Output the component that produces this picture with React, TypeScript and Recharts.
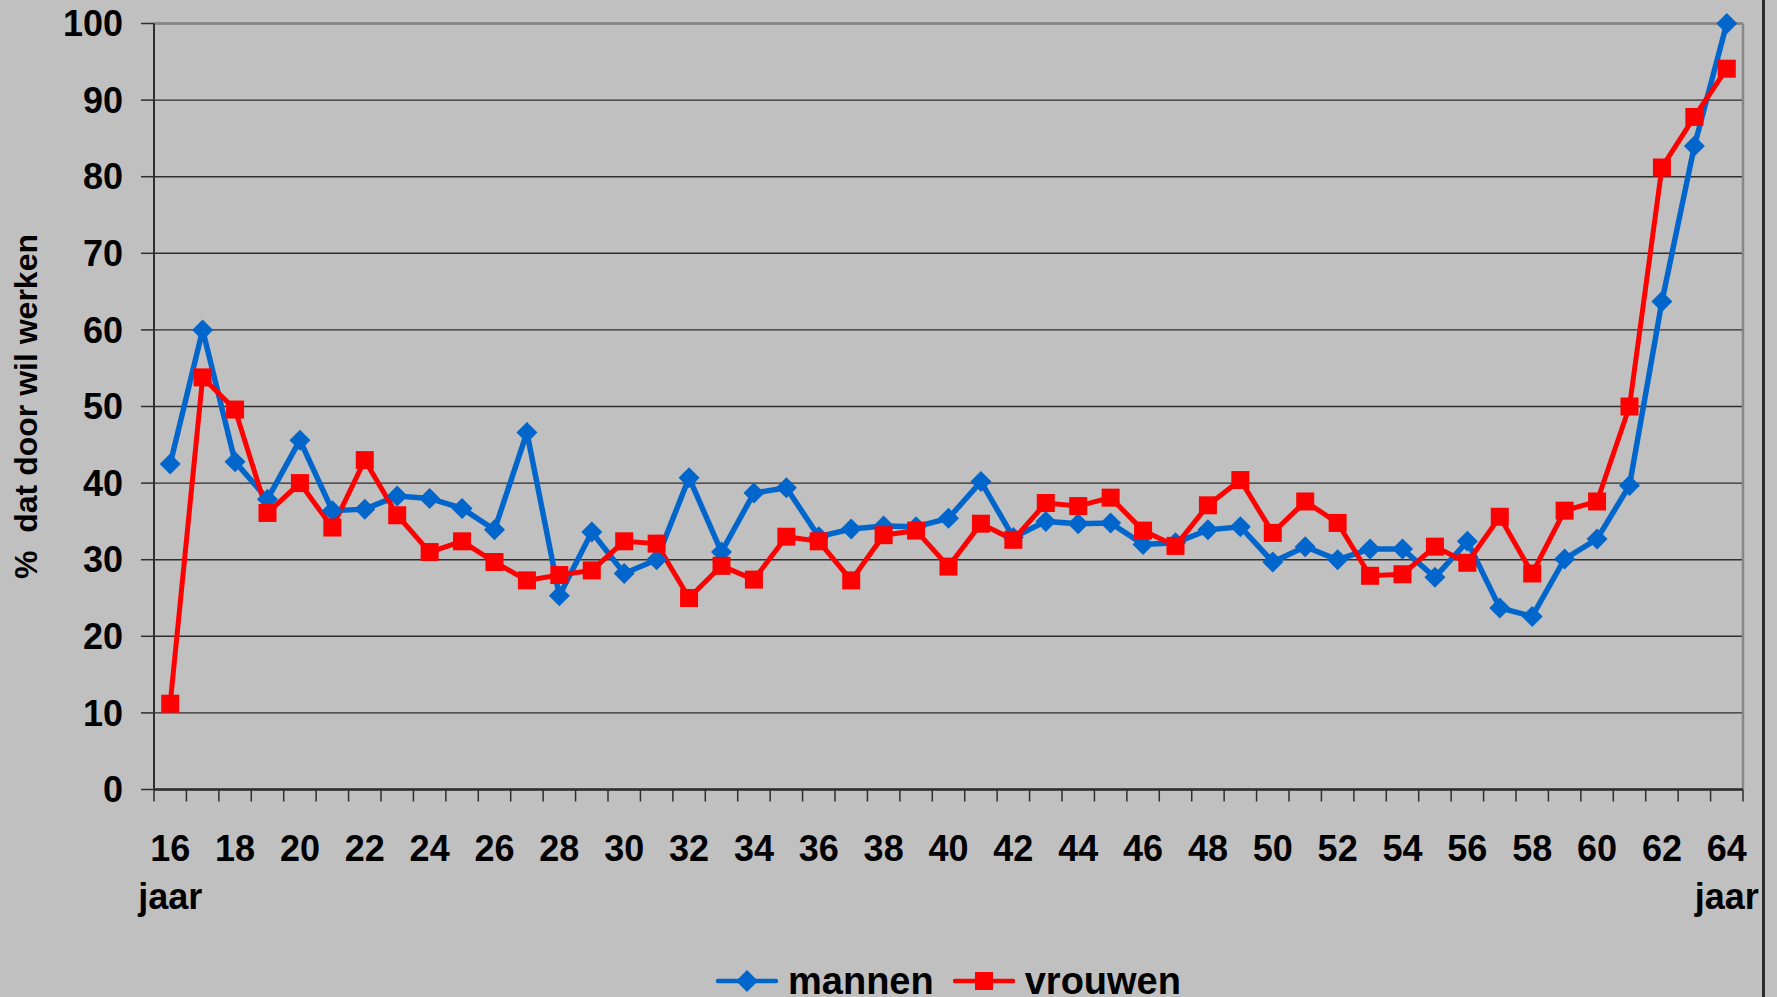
import { CartesianGrid, Label, Legend, Line, LineChart, ReferenceLine, XAxis, YAxis } from "recharts"

const ages = [
  16, 17, 18, 19, 20, 21, 22, 23, 24, 25, 26, 27, 28, 29, 30, 31, 32, 33, 34, 35, 36, 37, 38, 39, 40,
  41, 42, 43, 44, 45, 46, 47, 48, 49, 50, 51, 52, 53, 54, 55, 56, 57, 58, 59, 60, 61, 62, 63, 64,
]

const mannen = [
  42.5, 60.0, 42.8, 37.9, 45.6, 36.4, 36.6, 38.3, 38.0, 36.7, 33.9, 46.6, 25.3, 33.6, 28.2, 30.0, 40.7,
  31.0, 38.7, 39.4, 33.0, 34.0, 34.4, 34.3, 35.4, 40.2, 32.9, 35.0, 34.7, 34.8, 32.0, 32.2, 33.9, 34.3,
  29.7, 31.7, 30.0, 31.4, 31.4, 27.7, 32.4, 23.7, 22.6, 30.1, 32.7, 39.7, 63.7, 84.0, 100,
]

const vrouwen = [
  11.2, 53.8, 49.6, 36.1, 40.0, 34.2, 43.0, 35.8, 31.0, 32.4, 29.7, 27.3, 28.0, 28.6, 32.4, 32.1, 25.0,
  29.2, 27.4, 33.0, 32.4, 27.3, 33.2, 33.8, 29.1, 34.7, 32.6, 37.4, 37.0, 38.1, 33.8, 31.8, 37.1, 40.4,
  33.5, 37.6, 34.8, 27.9, 28.1, 31.7, 29.6, 35.6, 28.2, 36.4, 37.6, 50.0, 81.2, 87.8, 94.1,
]

const yTicks = [0, 10, 20, 30, 40, 50, 60, 70, 80, 90, 100]
const labeledAges = [16, 18, 20, 22, 24, 26, 28, 30, 32, 34, 36, 38, 40, 42, 44, 46, 48, 50, 52, 54, 56, 58, 60, 62, 64]
const jaarAges = [16, 64]

const data = ages.map((age, i) => ({ age, mannen: mannen[i], vrouwen: vrouwen[i] }))

// tick marks sit between the ages, labels sit on the ages
const boundaries = [...ages.map((a) => a - 0.5), ages[ages.length - 1] + 0.5]
const xTicks = [...boundaries, ...ages].sort((a, b) => a - b)

const FONT = '"Liberation Sans", Arial, sans-serif'
const BLUE = "#0066cc"
const RED = "#ff0000"
const GRID = "#2e2e2e"

function AgeTick(props: any) {
  const { x, y, payload } = props
  const v = payload.value
  if (!Number.isInteger(v)) {
    return <line x1={x} x2={x} y1={y} y2={y + 12} stroke={GRID} strokeWidth={1.5} />
  }
  if (!labeledAges.includes(v)) return <g />
  return (
    <g>
      <text x={x} y={y + 71} textAnchor="middle" fontSize={36} fontWeight={700} fontFamily={FONT} fill="#000">
        {v}
      </text>
      {jaarAges.includes(v) && (
        <text x={x} y={y + 119} textAnchor="middle" fontSize={36} fontWeight={700} fontFamily={FONT} fill="#000">
          jaar
        </text>
      )}
    </g>
  )
}

function Diamond(props: any) {
  const { cx, cy } = props
  if (cx == null || cy == null) return <g />
  const r = 10.5
  return <path d={`M${cx},${cy - r}L${cx + r},${cy}L${cx},${cy + r}L${cx - r},${cy}Z`} fill={BLUE} />
}

function Square(props: any) {
  const { cx, cy } = props
  if (cx == null || cy == null) return <g />
  return <rect x={cx - 9} y={cy - 9} width={18} height={18} fill={RED} />
}

function YTitle(props: any) {
  const vb = props.viewBox
  const bx = vb.x + 37
  const cy = vb.y + vb.height / 2
  return (
    <text
      x={bx}
      y={cy}
      transform={`rotate(-90, ${bx}, ${cy})`}
      textAnchor="middle"
      fontSize={32}
      fontWeight={700}
      fontFamily={FONT}
      fill="#000"
      style={{ whiteSpace: "pre" }}
    >
      {"%  dat door wil werken"}
    </text>
  )
}

function LegendItem({ color, name, square, first }: { color: string; name: string; square?: boolean; first?: boolean }) {
  return (
    <div style={{ display: "flex", alignItems: "center", height: 38, marginLeft: first ? 0 : 19 }}>
      <svg width={62} height={38}>
        <line x1={2} x2={60} y1={19} y2={19} stroke={color} strokeWidth={4.5} strokeLinecap="round" />
        {square ? (
          <rect x={22} y={10} width={18} height={18} fill={color} />
        ) : (
          <path d="M31,8L42,19L31,30L20,19Z" fill={color} />
        )}
      </svg>
      <span style={{ marginLeft: 10, fontSize: 38, fontWeight: 700, lineHeight: "38px", color: "#000" }}>{name}</span>
    </div>
  )
}

function LegendContent() {
  return (
    <div
      style={{
        display: "flex",
        justifyContent: "center",
        height: 50,
        paddingTop: 15,
        boxSizing: "border-box",
        fontFamily: FONT,
      }}
    >
      <LegendItem color={BLUE} name="mannen" first />
      <LegendItem color={RED} name="vrouwen" square />
    </div>
  )
}

export default function App() {
  return (
    <div
      style={{
        position: "absolute",
        left: 0,
        top: 0,
        width: 1777,
        height: 997,
        background: "#c0c0c0",
        overflow: "hidden",
        fontFamily: FONT,
      }}
    >
      <LineChart width={1777} height={997} data={data} margin={{ top: 23.5, right: 34, left: 0, bottom: 0 }}>
        <CartesianGrid vertical={false} stroke={GRID} strokeWidth={1.4} strokeOpacity={1} />
        <ReferenceLine y={100} stroke="#878787" strokeWidth={2.5} />
        <ReferenceLine x={64.5} stroke="#878787" strokeWidth={2.5} />
        <XAxis
          dataKey="age"
          type="number"
          domain={[15.5, 64.5]}
          allowDataOverflow
          ticks={xTicks}
          interval={0}
          tick={AgeTick}
          tickSize={0}
          tickMargin={0}
          tickLine={false}
          axisLine={{ stroke: GRID, strokeWidth: 2.5 }}
          height={157.5}
        />
        <YAxis
          domain={[0, 100]}
          ticks={yTicks}
          interval={0}
          width={154}
          tickSize={13}
          tickMargin={18}
          tickLine={{ stroke: GRID, strokeWidth: 1.5 }}
          axisLine={{ stroke: GRID, strokeWidth: 2 }}
          tick={{ fill: "#000", fontSize: 36, fontWeight: 700, fontFamily: FONT }}
        >
          <Label content={YTitle} />
        </YAxis>
        <Legend
          verticalAlign="bottom"
          content={LegendContent}
          wrapperStyle={{ left: 154, width: 1589, height: 50 }}
        />
        <Line
          type="linear"
          dataKey="mannen"
          name="mannen"
          stroke={BLUE}
          strokeWidth={5.5}
          dot={Diamond}
          activeDot={false}
          isAnimationActive={false}
        />
        <Line
          type="linear"
          dataKey="vrouwen"
          name="vrouwen"
          stroke={RED}
          strokeWidth={5}
          dot={Square}
          activeDot={false}
          isAnimationActive={false}
        />
      </LineChart>
      <div style={{ position: "absolute", left: 1762, top: 0, width: 3, height: 997, background: "#2b2b2b" }} />
    </div>
  )
}
